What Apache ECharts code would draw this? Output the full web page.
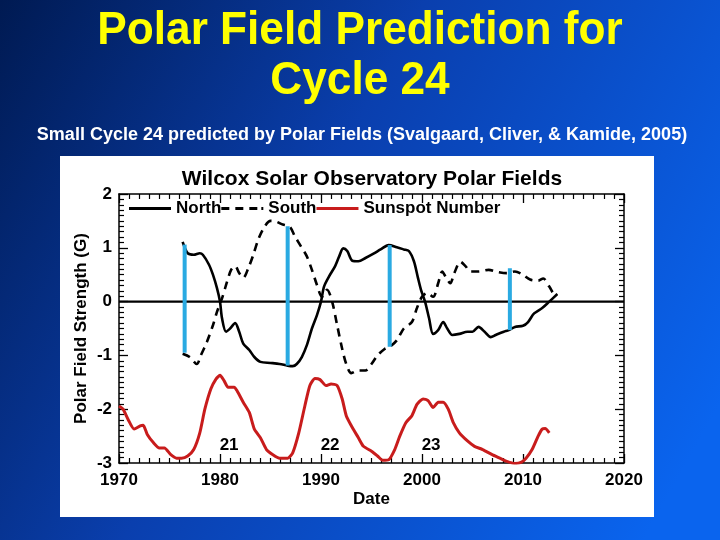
<!DOCTYPE html>
<html>
<head>
<meta charset="utf-8">
<script src="https://cdn.jsdelivr.net/npm/echarts@6/dist/echarts.min.js"></script>
<style>
html,body{margin:0;padding:0;width:720px;height:540px;overflow:hidden;}
#c{width:720px;height:540px;}
</style>
</head>
<body>
<div id="c"></div>
<script>
// ---- Data ----
const northYears = [1976.3,1976.8,1977.4,1978.0,1978.3,1978.9,1979.3,1979.7,1980.0,1980.2,1980.6,1981.0,1981.5,1981.9,1982.3,1982.9,1983.4,1984.0,1985.0,1985.9,1986.7,1987.2,1987.6,1988.1,1988.6,1989.1,1989.6,1990.0,1990.3,1990.8,1991.4,1991.8,1992.2,1992.6,1993.1,1993.7,1994.4,1995.2,1995.9,1996.7,1997.5,1998.2,1998.7,1999.2,1999.6,1999.9,2000.3,2000.7,2001.1,2001.6,2002.1,2002.5,2003.0,2003.7,2004.5,2005.0,2005.6,2006.2,2006.8,2007.3,2008.1,2008.6,2009.2,2010.0,2010.5,2011.1,2011.9,2012.6,2013.4];
const northValues = [1.11,0.9,0.87,0.9,0.87,0.69,0.5,0.25,0.0,-0.31,-0.56,-0.5,-0.4,-0.56,-0.78,-0.9,-1.03,-1.12,-1.14,-1.16,-1.19,-1.2,-1.16,-1.03,-0.81,-0.5,-0.25,0.0,0.28,0.47,0.66,0.84,0.99,0.94,0.76,0.75,0.81,0.89,0.97,1.05,1.01,0.97,0.94,0.75,0.44,0.22,0.0,-0.31,-0.6,-0.53,-0.38,-0.5,-0.62,-0.6,-0.56,-0.56,-0.47,-0.56,-0.66,-0.62,-0.56,-0.53,-0.47,-0.45,-0.38,-0.22,-0.12,0.0,0.14];

const southYears = [1976.3,1977.0,1977.7,1978.1,1978.7,1979.3,1979.7,1980.2,1980.7,1981.1,1981.5,1981.9,1982.3,1982.8,1983.3,1983.8,1984.4,1985.0,1985.5,1986.1,1986.9,1987.4,1988.0,1988.6,1989.1,1989.6,1990.1,1990.6,1991.1,1991.6,1992.1,1992.5,1993.0,1993.7,1994.4,1995.0,1995.6,1996.3,1996.8,1997.5,1998.2,1999.0,1999.5,2000.0,2000.5,2001.1,2001.6,2002.0,2002.4,2002.8,2003.2,2003.8,2004.3,2004.8,2005.6,2006.6,2007.5,2008.4,2009.2,2010.0,2010.7,2011.5,2012.0,2012.6,2013.2,2013.4];
const southValues = [-0.97,-1.03,-1.16,-1.0,-0.75,-0.44,-0.19,0.06,0.37,0.59,0.66,0.53,0.44,0.62,0.87,1.16,1.39,1.5,1.49,1.44,1.39,1.22,1.03,0.84,0.59,0.31,0.09,0.22,0.0,-0.44,-0.88,-1.16,-1.33,-1.28,-1.28,-1.16,-1.0,-0.88,-0.84,-0.72,-0.5,-0.38,-0.12,0.09,0.16,0.09,0.34,0.56,0.44,0.34,0.53,0.74,0.66,0.56,0.56,0.59,0.55,0.53,0.56,0.5,0.41,0.39,0.43,0.28,0.12,0.14];

const sunspotYears = [1970.0,1970.4,1970.9,1971.5,1972.1,1972.4,1972.8,1973.4,1974.0,1974.5,1975.1,1975.7,1976.2,1976.8,1977.4,1978.0,1978.5,1979.1,1979.6,1980.0,1980.4,1980.8,1981.4,1981.7,1982.3,1982.9,1983.4,1984.0,1984.6,1985.2,1985.9,1986.7,1987.2,1987.8,1988.4,1988.9,1989.4,1989.9,1990.5,1991.0,1991.6,1992.1,1992.5,1993.1,1993.7,1994.2,1995.0,1995.6,1996.1,1996.7,1997.3,1997.8,1998.4,1999.0,1999.5,2000.1,2000.6,2001.1,2001.6,2002.1,2002.6,2003.1,2003.7,2004.5,2005.2,2006.0,2006.9,2007.7,2008.4,2009.2,2009.8,2010.3,2010.9,2011.5,2011.9,2012.2,2012.6];
const sunspotValues = [-1.94,-2.0,-2.19,-2.37,-2.31,-2.3,-2.47,-2.62,-2.72,-2.72,-2.84,-2.91,-2.91,-2.87,-2.75,-2.44,-2.0,-1.62,-1.44,-1.37,-1.47,-1.59,-1.59,-1.66,-1.87,-2.06,-2.37,-2.53,-2.75,-2.84,-2.91,-2.91,-2.81,-2.44,-1.94,-1.56,-1.43,-1.45,-1.56,-1.53,-1.56,-1.81,-2.12,-2.34,-2.53,-2.69,-2.78,-2.87,-2.95,-2.94,-2.75,-2.5,-2.25,-2.12,-1.91,-1.81,-1.84,-1.97,-1.87,-1.87,-2.0,-2.25,-2.44,-2.59,-2.69,-2.75,-2.84,-2.91,-2.97,-3.01,-2.99,-2.91,-2.75,-2.5,-2.37,-2.36,-2.44];

const zeroYears = [1970, 2020];
const zeroValues = [0, 0];

const minimaYears = [1976.5, 1986.7, 1996.8, 2008.7];
const minimaTop = [1.06, 1.4, 1.05, 0.62];
const minimaBottom = [-0.95, -1.19, -0.84, -0.53];

const cycleYears = [1980.9, 1990.9, 2000.9];
const cycleY = [-2.67, -2.67, -2.67];
const cycleLabels = ['21', '22', '23'];

const xTicks = [1970, 1980, 1990, 2000, 2010, 2020];
const yTicks = [-3, -2, -1, 0, 1, 2];

const zip = (a, b) => a.map((v, i) => [v, b[i]]);

const FONT = '"Liberation Sans", Arial, Helvetica, sans-serif';

const chart = echarts.init(document.getElementById('c'));

const baseX = {
  type: 'value', min: xTicks[0], max: xTicks[xTicks.length - 1], interval: 10,
  axisLine: { show: true, onZero: false, lineStyle: { color: '#000', width: 1.5 } },
  axisTick: { show: true, inside: true, length: 9, lineStyle: { color: '#000', width: 1.3 } },
  minorTick: { show: true, splitNumber: 10, length: 5, lineStyle: { color: '#000', width: 1.2 } },
  splitLine: { show: false }, minorSplitLine: { show: false }
};
const baseY = {
  type: 'value', min: yTicks[0], max: yTicks[yTicks.length - 1], interval: 1,
  axisLine: { show: true, onZero: false, lineStyle: { color: '#000', width: 1.5 } },
  axisTick: { show: true, inside: true, length: 9, lineStyle: { color: '#000', width: 1.3 } },
  minorTick: { show: true, splitNumber: 10, length: 5, lineStyle: { color: '#000', width: 1.2 } },
  splitLine: { show: false }, minorSplitLine: { show: false }
};

// legend icons: solid bar and dashed bar (42 x 3)
const solidIcon = 'path://M0,0H42V3H0Z';
const dashIcon = 'path://M0,0H8V3H0Z M14,0H22V3H14Z M28,0H36V3H28Z M40,0H42V3H40Z';

const option = {
  backgroundColor: {
    type: 'linear', x: 0, y: 0, x2: 1, y2: 0.75,
    colorStops: [
      { offset: 0, color: '#001a52' },
      { offset: 0.45, color: '#0a3fae' },
      { offset: 1, color: '#0a64ee' }
    ]
  },
  animation: false,
  graphic: [
    { type: 'rect', z: -10, shape: { x: 60, y: 156, width: 594, height: 361 }, style: { fill: '#ffffff' } },
    { type: 'text', x: 360, y: 31, scaleX: 0.94, z: 10,
      style: { text: 'Polar Field Prediction for', font: 'bold 47px ' + FONT, fill: '#ffff00',
        textAlign: 'center', textVerticalAlign: 'middle',
        shadowColor: 'rgba(0,0,20,0.85)', shadowOffsetX: 2, shadowOffsetY: 2, shadowBlur: 1 } },
    { type: 'text', x: 360, y: 81, scaleX: 0.94, z: 10,
      style: { text: 'Cycle 24', font: 'bold 47px ' + FONT, fill: '#ffff00',
        textAlign: 'center', textVerticalAlign: 'middle',
        shadowColor: 'rgba(0,0,20,0.85)', shadowOffsetX: 2, shadowOffsetY: 2, shadowBlur: 1 } },
    { type: 'text', x: 362, y: 135, z: 10,
      style: { text: 'Small Cycle 24 predicted by Polar Fields (Svalgaard, Cliver, & Kamide, 2005)',
        font: 'bold 18px ' + FONT, fill: '#ffffff', textAlign: 'center', textVerticalAlign: 'middle',
        shadowColor: 'rgba(0,0,20,0.8)', shadowOffsetX: 1, shadowOffsetY: 1, shadowBlur: 1 } },
    { type: 'text', x: 372, y: 179, z: 10,
      style: { text: 'Wilcox Solar Observatory Polar Fields', font: 'bold 21px ' + FONT, fill: '#000',
        textAlign: 'center', textVerticalAlign: 'middle' } }
  ],
  grid: { left: 119, right: 96, top: 194, bottom: 77, containLabel: false },
  legend: {
    data: [
      { name: 'North', icon: solidIcon },
      { name: 'South', icon: dashIcon },
      { name: 'Sunspot Number', icon: solidIcon }
    ],
    left: 124, top: 195, itemWidth: 42, itemHeight: 3, itemGap: 0,
    symbolKeepAspect: false,
    textStyle: { color: '#000', fontSize: 17, fontWeight: 'bold', fontFamily: FONT }
  },
  xAxis: [
    Object.assign({}, baseX, {
      position: 'bottom',
      name: 'Date', nameLocation: 'middle', nameGap: 28,
      nameTextStyle: { color: '#000', fontSize: 17, fontWeight: 'bold', fontFamily: FONT },
      axisLabel: { show: true, color: '#000', fontSize: 17, fontWeight: 'bold', fontFamily: FONT, margin: 9,
        formatter: v => String(v) }
    }),
    Object.assign({}, baseX, { position: 'top', axisLabel: { show: false } })
  ],
  yAxis: [
    Object.assign({}, baseY, {
      position: 'left',
      name: 'Polar Field Strength (G)', nameLocation: 'middle', nameGap: 29, nameRotate: 90,
      nameMoveOverlap: false,
      nameTextStyle: { color: '#000', fontSize: 17, fontWeight: 'bold', fontFamily: FONT },
      axisLabel: { show: true, color: '#000', fontSize: 17, fontWeight: 'bold', fontFamily: FONT, margin: 7 }
    }),
    Object.assign({}, baseY, { position: 'right', axisLabel: { show: false } })
  ],
  series: [
    { name: 'Zero', type: 'line', data: zip(zeroYears, zeroValues), showSymbol: false, symbol: 'none',
      lineStyle: { color: '#000', width: 2.2 }, silent: true, z: 2 },
    { name: 'North', type: 'line', data: zip(northYears, northValues), symbol: 'none', smooth: 0.3,
      lineStyle: { color: '#000', width: 2.6 }, itemStyle: { color: '#000' }, z: 3 },
    { name: 'South', type: 'line', data: zip(southYears, southValues), symbol: 'none', smooth: 0.3,
      lineStyle: { color: '#000', width: 2.6, type: [8, 6] }, itemStyle: { color: '#000' }, z: 3 },
    { name: 'Sunspot Number', type: 'line', data: zip(sunspotYears, sunspotValues), symbol: 'none', smooth: 0.2,
      lineStyle: { color: '#c81c1c', width: 3 }, itemStyle: { color: '#c81c1c' }, z: 3 },
    { name: 'Minima', type: 'custom', z: 4,
      data: minimaYears.map((y, i) => [y, minimaTop[i], minimaBottom[i]]),
      renderItem: function (params, api) {
        const p1 = api.coord([api.value(0), api.value(1)]);
        const p2 = api.coord([api.value(0), api.value(2)]);
        return { type: 'line', shape: { x1: p1[0], y1: p1[1], x2: p2[0], y2: p2[1] },
          style: { stroke: '#2aaae2', lineWidth: 4 } };
      }
    },
    { name: 'Cycles', type: 'scatter', symbolSize: 0, z: 5,
      itemStyle: { opacity: 1 },
      data: cycleYears.map((y, i) => ({ value: [y, cycleY[i]], name: cycleLabels[i] })),
      label: { show: true, position: 'inside', formatter: '{b}', color: '#000', opacity: 1, fontSize: 17,
        fontWeight: 'bold', fontFamily: FONT }
    }
  ]
};
chart.setOption(option);
</script>
</body>
</html>
